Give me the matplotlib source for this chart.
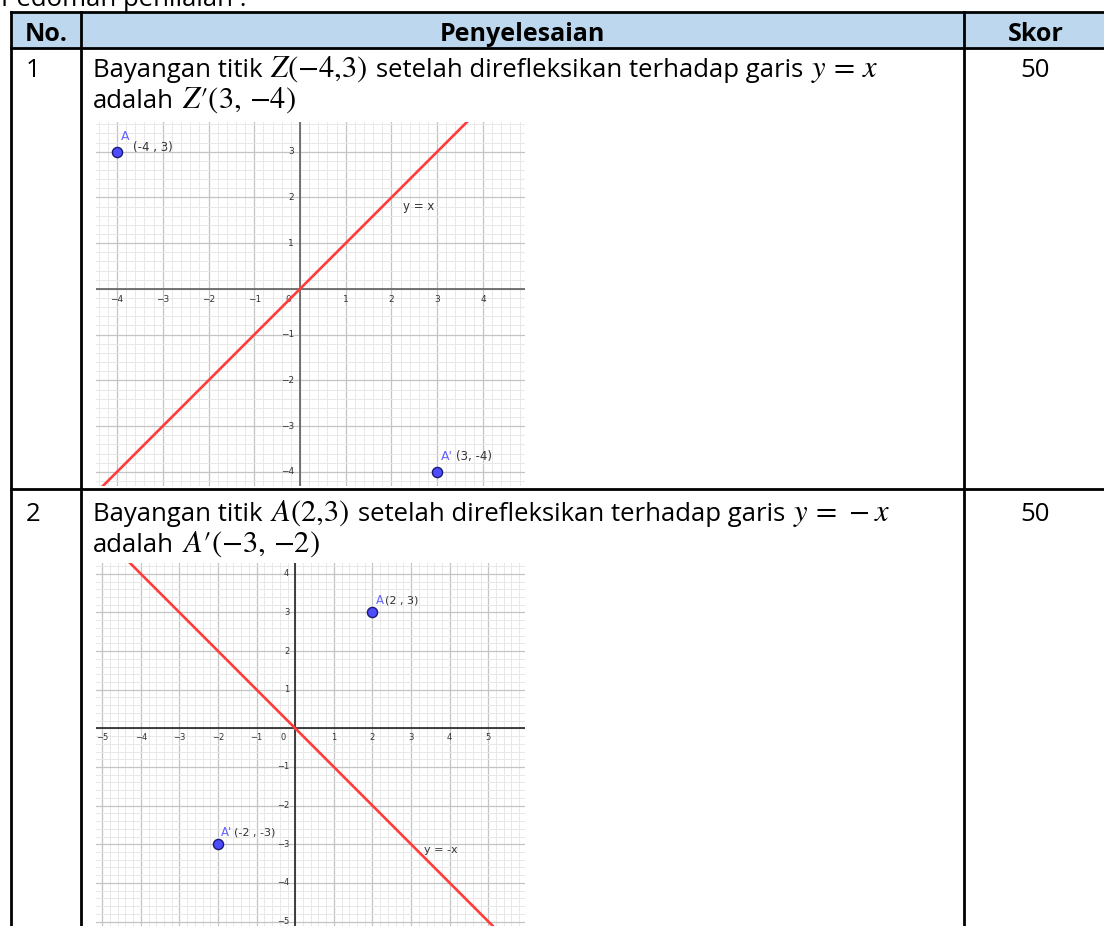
import numpy as np
import matplotlib.pyplot as plt
from matplotlib.patches import Rectangle

W, H = 1104, 926
plt.rcParams['font.family'] = ['Open Sans', 'DejaVu Sans']
plt.rcParams['mathtext.fontset'] = 'stix'

# table content
title = 'Pedoman penilaian :'
headers = ['No.', 'Penyelesaian', 'Skor']
row_no = ['1', '2']
# each line is a list of (text, is_math) runs
row_line1 = [[('Bayangan titik', False), (r'$Z(-4{,}3)$', True),
              ('setelah direfleksikan terhadap garis', False), (r'$y\,=\,x$', True)],
             [('Bayangan titik', False), (r'$A(2{,}3)$', True),
              ('setelah direfleksikan terhadap garis', False), (r'$y\,=\,-x$', True)]]
row_line2 = [[('adalah', False), (r'$Z{\prime}(3,\,{-}4)$', True)],
             [('adalah', False), (r'$A{\prime}({-}3,\,{-}2)$', True)]]
scores = ['50', '50']

# plane 1 : reflection over y = x
p1_pts = [(-4, 3), (3, -4)]
p1_names = ['A', "A'"]
p1_coords = ['(-4 , 3)', '(3, -4)']
p1_slope = 1
p1_line_lbl = 'y = x'
p1_xticks = [-4, -3, -2, -1, 1, 2, 3, 4]
p1_yticks = [3, 2, 1, -1, -2, -3, -4]

# plane 2 : reflection over y = -x
p2_pts = [(2, 3), (-2, -3)]
p2_names = ['A', "A'"]
p2_coords = ['(2 , 3)', '(-2 , -3)']
p2_slope = -1
p2_line_lbl = 'y = -x'
p2_xticks = [-5, -4, -3, -2, -1, 1, 2, 3, 4, 5]
p2_yticks = [4, 3, 2, 1, -1, -2, -3, -4, -5]

fig = plt.figure(figsize=(W / 100, H / 100), dpi=100)
base = fig.add_axes([0, 0, 1, 1], zorder=2)
base.set_xlim(0, W)
base.set_ylim(H, 0)
base.axis('off')
base.patch.set_alpha(0)
renderer = fig.canvas.get_renderer()

# column / row borders (pixels)
x_left, x_no, x_skor, x_right = 11, 81, 964, 1107
y_top, y_head, y_row1, y_bot = 12, 48, 489, 940

base.add_patch(Rectangle((x_left, y_top), x_right - x_left, y_head - y_top,
                         facecolor='#bdd7ee', edgecolor='none', zorder=0))
lw = 2.0
for yy in [y_top, y_head, y_row1]:
    base.plot([x_left, x_right], [yy, yy], color='black', lw=lw, solid_capstyle='projecting')
for xx in [x_left, x_no, x_skor, x_right]:
    base.plot([xx, xx], [y_top, y_bot], color='black', lw=lw, solid_capstyle='projecting')

fs = 18.5
fs_math = 22
gap = 8

base.text(1, 6, title, fontsize=fs, va='baseline', ha='left')
base.text((x_left + x_no) / 2, 41, headers[0], fontsize=18, fontweight='bold', ha='center', va='baseline')
base.text((x_no + x_skor) / 2, 41, headers[1], fontsize=18, fontweight='bold', ha='center', va='baseline')
base.text((x_skor + x_right) / 2, 41, headers[2], fontsize=18, fontweight='bold', ha='center', va='baseline')


def put_runs(x, y, runs):
    for s, is_math in runs:
        t = base.text(x, y, s, fontsize=fs_math if is_math else fs, va='baseline', ha='left')
        x += t.get_window_extent(renderer).width + gap


for i, y0 in enumerate([77, 521]):
    base.text(26, y0, row_no[i], fontsize=fs, va='baseline')
    put_runs(93, y0, row_line1[i])
    put_runs(93, y0 + 31, row_line2[i])
    base.text((x_skor + x_right) / 2, y0, scores[i], fontsize=fs, ha='center', va='baseline')


def px_axes(l, t, r, b):
    return fig.add_axes([l / W, 1 - b / H, (r - l) / W, (b - t) / H], zorder=1)


def draw_plane(ax, xlim, ylim, slope, pts, names, coords, line_lbl, lbl_xy,
               xticks, yticks, axis_col, tick_fs, lbl_fs, name_off, coord_off, tick_off):
    ax.set_xlim(*xlim)
    ax.set_ylim(*ylim)
    for s in ax.spines.values():
        s.set_visible(False)
    ax.set_xticks(np.arange(np.ceil(xlim[0]), xlim[1] + 0.01, 1))
    ax.set_yticks(np.arange(np.ceil(ylim[0]), ylim[1] + 0.01, 1))
    ax.set_xticks(np.arange(np.ceil(xlim[0] * 5) / 5, xlim[1], 0.2), minor=True)
    ax.set_yticks(np.arange(np.ceil(ylim[0] * 5) / 5, ylim[1], 0.2), minor=True)
    ax.grid(which='minor', color='#e8e8e8', lw=0.7)
    ax.grid(which='major', color='#c4c4c4', lw=0.9)
    ax.tick_params(which='both', length=0, labelbottom=False, labelleft=False)
    ax.set_axisbelow(True)
    ax.axhline(0, color=axis_col, lw=1.2, zorder=2)
    ax.axvline(0, color=axis_col, lw=1.2, zorder=2)

    for t in xticks:
        ax.annotate('\u2212%d' % -t if t < 0 else str(t), (t, 0), xytext=(0, -tick_off[1]),
                    textcoords='offset pixels', ha='center', va='center',
                    fontsize=tick_fs, color='#333333', family='DejaVu Sans')
    ax.annotate('0', (0, 0), xytext=(-tick_off[0] - 3, -tick_off[1]),
                textcoords='offset pixels', ha='right', va='center',
                fontsize=tick_fs, color='#333333', family='DejaVu Sans')
    for t in yticks:
        ax.annotate('\u2212%d' % -t if t < 0 else str(t), (0, t), xytext=(-tick_off[0], 0),
                    textcoords='offset pixels', ha='right', va='center',
                    fontsize=tick_fs, color='#333333', family='DejaVu Sans')

    ax.axline((0, 0), slope=slope, color='#ff3b3b', lw=1.9, zorder=3)
    ax.text(lbl_xy[0], lbl_xy[1], line_lbl, fontsize=lbl_fs, color='#333333',
            ha='left', va='center', family='DejaVu Sans', zorder=4)

    for (px, py), nm, cd in zip(pts, names, coords):
        ax.plot(px, py, 'o', ms=7.3, mfc='#4d4dff', mec='#1a1a70', mew=1.0, zorder=5)
        ax.annotate(nm, (px, py), xytext=name_off, textcoords='offset pixels',
                    ha='left', va='center', fontsize=lbl_fs + 0.5, color='#6464ff',
                    family='DejaVu Sans', zorder=5)
        off = coord_off if nm == 'A' else (coord_off[0] + 3, coord_off[1])
        ax.annotate(cd, (px, py), xytext=off, textcoords='offset pixels',
                    ha='left', va='center', fontsize=lbl_fs, color='#333333',
                    family='DejaVu Sans', zorder=5)


ax1 = px_axes(96, 122, 525, 486)
draw_plane(ax1, (-4.46, 4.92), (-4.31, 3.65), p1_slope, p1_pts, p1_names, p1_coords,
           p1_line_lbl, (2.25, 1.8), p1_xticks, p1_yticks, '#606060', 6.5, 8.5,
           (4, 15), (16, 4), (6, 11))
# A' label sits higher in the first plane
ax1.texts[-1].xyann = (19, 15)

ax2 = px_axes(96, 563, 525, 930)
draw_plane(ax2, (-5.16, 5.95), (-5.22, 4.28), p2_slope, p2_pts, p2_names, p2_coords,
           p2_line_lbl, (3.34, -3.15), p2_xticks, p2_yticks, '#222222', 6, 8,
           (3, 12), (13, 12), (6, 9))

fig.savefig('out.png', dpi=100)
